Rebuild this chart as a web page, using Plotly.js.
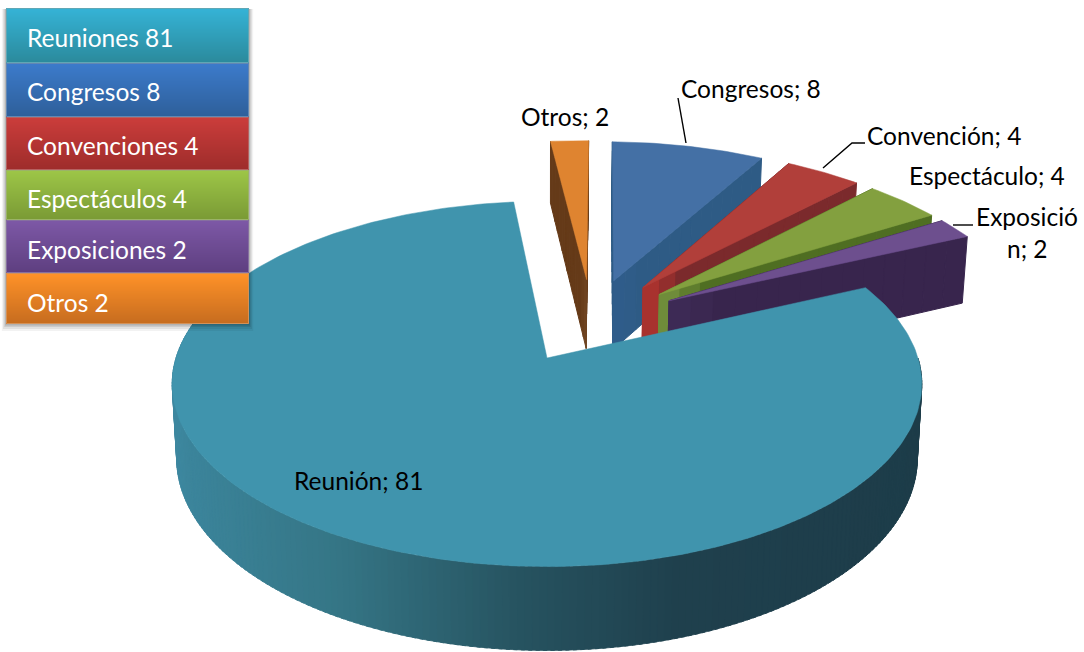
<!DOCTYPE html>
<html>
<head>
<meta charset="utf-8">
<script src="https://cdn.plot.ly/plotly-3.0.1.min.js"></script>
<style>html,body{margin:0;padding:0;background:#fff}#chart{width:1084px;height:652px}</style>
</head>
<body>
<div id="chart"></div>
<script>
// ---- data (clockwise from the Reunión slice) ----
const sliceNames  = ['Reunión', 'Otros', 'Congresos', 'Convención', 'Espectáculo', 'Exposición'];
const sliceValues = [81, 2, 8, 4, 4, 2];
const legendNames  = ['Reuniones', 'Congresos', 'Convenciones', 'Espectáculos', 'Exposiciones', 'Otros'];
const legendValues = [81, 8, 4, 4, 2, 2];

// ---- styles ----
const topColors  = ['#4094ad', '#df8430', '#4470a5', '#b13f3a', '#83a03f', '#6d4f8e'];
const wallApex   = ['#1f404d', '#6e4320', '#2f5c8a', '#a8322e', '#6f8c3a', '#3d2a55'];
const wallRim    = ['#1f404d', '#653a18', '#2e5b85', '#7b2a2c', '#4f6e22', '#38254d'];
const outerStops = [[-1, '#3d88a0'], [-0.5, '#357686'], [-0.05, '#26525f'], [0.3, '#1f404d'], [1, '#1d3c49']];
const legendTop    = ['#35b3d6', '#3c7bcb', '#cb3d3b', '#9dc647', '#7d58a6', '#ff9228'];
const legendBottom = ['#2b8a9c', '#2e5f9a', '#9e2c2b', '#7a9a35', '#5e3f80', '#c66c1f'];
const legendEdges  = [8, 63, 117, 170, 220, 273, 324];
const legendTextY  = [37, 91, 145, 198, 249, 302];

// ---- projection of the tilted, exploded pie onto the page ----
const OX = 547, OY = 358, RX = 371, RY = 179, K = 0.142;
const START = 65.4, EXPLODE = 0.25, DEPTH = 73, SHRINK = 0.988;
const rad = d => d * Math.PI / 180;
const hex = c => [1, 3, 5].map(i => parseInt(c.substr(i, 2), 16));
const mix = (a, b, t) => { const A = hex(a), B = hex(b);
  return 'rgb(' + A.map((v, i) => Math.round(v + (B[i] - v) * t)).join(',') + ')'; };
const stopColor = u => { for (let i = 0; i < outerStops.length - 1; i++) {
    const [a, ca] = outerStops[i], [b, cb] = outerStops[i + 1];
    if (u <= b) return mix(ca, cb, Math.max(0, (u - a) / (b - a)));
  } return outerStops[outerStops.length - 1][1]; };
const topPt = (u, v) => { const s = 1 / (1 + K * v); return [OX + RX * u * s, OY - RY * v * s]; };
const botPt = (u, v) => { const s = 1 / (1 + K * v), p = topPt(u, v);
  return [OX + (p[0] - OX) * SHRINK, p[1] + DEPTH * Math.pow(s, 0.9)]; };

const total = sliceValues.reduce((a, b) => a + b, 0);
let cursor = START;
const slices = sliceValues.map((val, i) => {
  const a0 = cursor, a1 = cursor + val / total * 360; cursor = a1;
  return { i, a0, a1, mid: (a0 + a1) / 2 };
});
const base = slices[0];
slices.forEach(s => {
  s.ou = EXPLODE * (Math.sin(rad(s.mid)) - Math.sin(rad(base.mid)));
  s.ov = EXPLODE * (Math.cos(rad(s.mid)) - Math.cos(rad(base.mid)));
});

const traces = [];
const poly = (pts, color, lw) => traces.push({
  type: 'scatter', mode: 'lines', x: pts.map(p => p[0]).concat(pts[0][0]), y: pts.map(p => p[1]).concat(pts[0][1]),
  fill: 'toself', fillcolor: color, line: { color: color, width: lw === undefined ? 1 : lw },
  hoverinfo: 'skip', showlegend: false
});
const rimUV = (s, a) => [s.ou + Math.sin(rad(a)), s.ov + Math.cos(rad(a))];

function drawWall(s, a) {
  const r = rimUV(s, a), N = 14;
  for (let k = 0; k < N; k++) {
    const t0 = k / N, t1 = (k + 1) / N;
    const u0 = s.ou + (r[0] - s.ou) * t0, v0 = s.ov + (r[1] - s.ov) * t0;
    const u1 = s.ou + (r[0] - s.ou) * t1, v1 = s.ov + (r[1] - s.ov) * t1;
    poly([topPt(u0, v0), topPt(u1, v1), botPt(u1, v1), botPt(u0, v0)],
         mix(wallApex[s.i], wallRim[s.i], Math.min(1, t0 * 7)));
  }
}
function drawTop(s) {
  const pts = [topPt(s.ou, s.ov)], n = Math.max(8, Math.ceil(s.a1 - s.a0));
  for (let k = 0; k <= n; k++) { const r = rimUV(s, s.a0 + (s.a1 - s.a0) * k / n); pts.push(topPt(r[0], r[1])); }
  poly(pts, topColors[s.i], 0.5);
}

// back to front: Otros, Congresos, Convención, Espectáculo, Exposición, then Reunión
[1, 2, 3, 4, 5].forEach(i => {
  const s = slices[i];
  const walls = [[s.a0, Math.cos(rad(s.a0 - 90))], [s.a1, Math.cos(rad(s.a1 + 90))]];
  walls.sort((a, b) => b[1] - a[1]).forEach(w => drawWall(s, w[0]));
  drawTop(s);
});
// outer wall of the big slice, shaded band by band
for (let a = 90; a < 285; a += 1) {
  const p = rimUV(base, a), q = rimUV(base, a + 1.5);
  poly([topPt(p[0], p[1]), topPt(q[0], q[1]), botPt(q[0], q[1]), botPt(p[0], p[1])],
       stopColor(Math.sin(rad(a + 0.5))), 0.8);
}
drawTop(base);

// ---- leader lines ----
const leaders = [
  [[678, 98], [686, 143]],
  [[865, 143], [852, 143], [823, 168]],
  [[973, 225], [953, 225]]
];
leaders.forEach(l => traces.push({
  type: 'scatter', mode: 'lines', x: l.map(p => p[0]), y: l.map(p => p[1]),
  line: { color: '#000', width: 1.4 }, hoverinfo: 'skip', showlegend: false
}));

// ---- legend block ----
const shapes = [];
[[7, 0.05], [5, 0.07], [3, 0.09], [1.5, 0.12]].forEach(([g, op]) => shapes.push({
  type: 'rect', layer: 'above', xref: 'x', yref: 'y',
  x0: 6 - g * 0.6, x1: 249 + g * 0.6, y0: 9, y1: 324 + g,
  fillcolor: 'rgba(0,0,0,' + op + ')', line: { width: 0 }
}));
legendNames.forEach((n, i) => {
  const y0 = legendEdges[i], y1 = legendEdges[i + 1], h = y1 - y0;
  for (let k = 0; k < h; k++) shapes.push({
    type: 'rect', layer: 'above', xref: 'x', yref: 'y',
    x0: 6, x1: 249, y0: y0 + k, y1: y0 + k + 1,
    fillcolor: mix(legendTop[i], legendBottom[i], k / (h - 1)), line: { width: 0 }
  });
  shapes.push({ type: 'rect', layer: 'above', xref: 'x', yref: 'y', x0: 6.5, x1: 248.5, y0: y0 + 0.5, y1: y1 - 0.5,
    fillcolor: 'rgba(0,0,0,0)', line: { width: 1, color: mix(legendBottom[i], '#ffffff', 0.25) } });
});

// ---- texts ----
const FONT = 'Lato, "Open Sans", sans-serif';
const SIZE = 24.5;
const sliceText = i => sliceNames[i] + '; ' + sliceValues[i];
const ann = (text, x, y, size, color, anchor) => ({
  text, x, y, xref: 'x', yref: 'y', showarrow: false, xanchor: anchor, yanchor: 'middle',
  font: { family: FONT, size, color }, align: 'center', borderpad: 0, borderwidth: 0
});
const annotations = [
  ann(sliceText(0), 358, 480, SIZE, '#000', 'center'),
  ann(sliceText(1), 565, 116, SIZE, '#000', 'center'),
  ann(sliceText(2), 751, 88, SIZE, '#000', 'center'),
  ann(sliceText(3), 944, 135, SIZE, '#000', 'center'),
  ann(sliceText(4), 987, 175, SIZE, '#000', 'center'),
  ann('Exposició', 1027, 216, SIZE, '#000', 'center'),
  ann('n; ' + sliceValues[5], 1027, 248, SIZE, '#000', 'center')
];
legendNames.forEach((n, i) => annotations.push(
  ann(n + ' ' + legendValues[i], 27, legendTextY[i], SIZE, '#fff', 'left')));

const hidden = { visible: false, fixedrange: true, showgrid: false, zeroline: false };
Plotly.newPlot('chart', traces, {
  width: 1084, height: 652,
  margin: { l: 0, r: 0, t: 0, b: 0 },
  paper_bgcolor: '#fff', plot_bgcolor: '#fff',
  xaxis: Object.assign({ range: [0, 1084] }, hidden),
  yaxis: Object.assign({ range: [652, 0] }, hidden),
  shapes, annotations, showlegend: false
}, { displayModeBar: false, staticPlot: true });
</script>
</body>
</html>
